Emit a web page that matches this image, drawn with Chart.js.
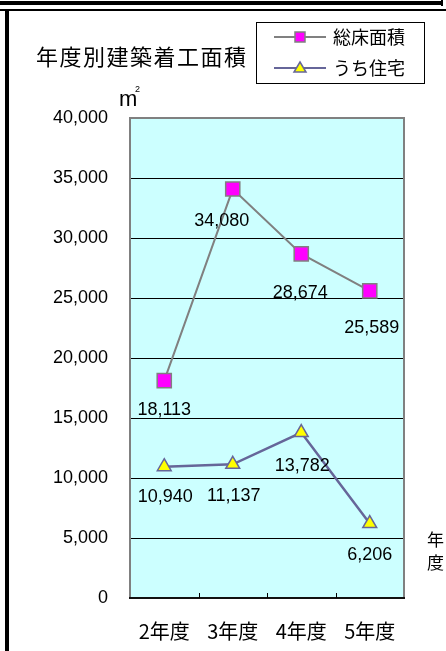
<!DOCTYPE html>
<html>
<head>
<meta charset="utf-8">
<script src="https://cdn.jsdelivr.net/npm/chart.js@4"></script>
<style>
html,body{margin:0;padding:0;background:#fff;}
canvas{display:block;}
</style>
</head>
<body>
<canvas id="c" width="446" height="651"></canvas>
<script>
const categories = ['2年度', '3年度', '4年度', '5年度'];
const totalFloor = [18113, 34080, 28674, 25589];
const housing = [10940, 11137, 13782, 6206];
const seriesNames = ['総床面積', 'うち住宅'];
const yTicks = [0, 5000, 10000, 15000, 20000, 25000, 30000, 35000, 40000];
const titleText = '年度別建築着工面積';
const xAxisTitle = ['年', '度'];

// label offsets (px) relative to each point
const labelOffsets = [
  {dx: [0, -11, -1, 2], dy: [29, 32, 39, 37]},
  {dx: [1, 1, 1, 0], dy: [30, 32, 33, 32]}
];

const NUM_FONT = '"Liberation Sans", Arial, sans-serif';
const JP_FONT = '"Noto Sans CJK JP", sans-serif';
const fmt = v => v.toLocaleString('en-US');

const decor = {
  id: 'decor',
  beforeDraw(chart) {
    const ctx = chart.ctx, a = chart.chartArea;
    ctx.save();
    ctx.fillStyle = '#fff';
    ctx.fillRect(0, 0, chart.width, chart.height);
    // frame
    ctx.fillStyle = '#000';
    ctx.fillRect(0, 1, 441, 4);
    ctx.fillRect(441, 0, 2, 6);
    ctx.fillRect(0, 9, 446, 2);
    ctx.fillRect(5, 9, 4, chart.height - 9);
    // plot bg
    ctx.fillStyle = '#CCFFFF';
    ctx.fillRect(a.left, a.top, a.right - a.left, a.bottom - a.top);
    ctx.restore();
  },
  beforeDatasetsDraw(chart) {
    const ctx = chart.ctx, a = chart.chartArea, x = chart.scales.x;
    ctx.save();
    ctx.strokeStyle = '#808080';
    ctx.lineWidth = 2;
    ctx.beginPath();
    ctx.moveTo(a.left, a.bottom);
    ctx.lineTo(a.left, a.top);
    ctx.lineTo(a.right, a.top);
    ctx.lineTo(a.right, a.bottom);
    ctx.stroke();
    ctx.strokeStyle = '#111';
    ctx.lineWidth = 2;
    ctx.beginPath();
    ctx.moveTo(a.left - 1, a.bottom);
    ctx.lineTo(a.right + 1, a.bottom);
    ctx.stroke();
    // inner ticks between categories
    ctx.lineWidth = 1;
    ctx.strokeStyle = '#000';
    const half = (x.getPixelForValue(1) - x.getPixelForValue(0)) / 2;
    for (let i = 0; i < categories.length - 1; i++) {
      const px = Math.round(x.getPixelForValue(i) + half) + 0.5;
      ctx.beginPath();
      ctx.moveTo(px, a.bottom);
      ctx.lineTo(px, a.bottom - 5);
      ctx.stroke();
    }
    ctx.restore();
  },
  afterDatasetsDraw(chart) {
    const ctx = chart.ctx;
    ctx.save();
    ctx.fillStyle = '#000';
    ctx.font = '18px ' + NUM_FONT;
    ctx.textAlign = 'center';
    ctx.textBaseline = 'middle';
    chart.data.datasets.forEach((ds, di) => {
      const meta = chart.getDatasetMeta(di);
      meta.data.forEach((pt, i) => {
        ctx.fillText(fmt(ds.data[i]), pt.x + labelOffsets[di].dx[i], pt.y + labelOffsets[di].dy[i]);
      });
    });
    ctx.restore();
  },
  afterDraw(chart) {
    const ctx = chart.ctx;
    ctx.save();
    // title
    ctx.fillStyle = '#000';
    ctx.font = '22px ' + JP_FONT;
    ctx.textBaseline = 'middle';
    ctx.textAlign = 'left';
    try { ctx.letterSpacing = '1.5px'; } catch (e) {}
    ctx.fillText(titleText, 36, 57);
    try { ctx.letterSpacing = '0px'; } catch (e) {}
    // unit
    ctx.textBaseline = 'alphabetic';
    ctx.font = '22px ' + NUM_FONT;
    ctx.fillText('m', 119, 106);
    ctx.font = '9px ' + NUM_FONT;
    ctx.fillText('2', 135, 92);
    // legend
    ctx.fillStyle = '#fff';
    ctx.fillRect(256, 22, 168, 61);
    ctx.strokeStyle = '#000';
    ctx.lineWidth = 1;
    ctx.strokeRect(256.5, 22.5, 168, 61);
    const rows = [37, 68];
    chart.data.datasets.forEach((ds, di) => {
      const y = rows[di];
      ctx.strokeStyle = ds.borderColor;
      ctx.lineWidth = 2;
      ctx.beginPath();
      ctx.moveTo(274, y);
      ctx.lineTo(326, y);
      ctx.stroke();
      ctx.fillStyle = ds.pointBackgroundColor;
      ctx.strokeStyle = ds.pointBorderColor;
      ctx.lineWidth = 1.5;
      ctx.beginPath();
      if (ds.pointStyle === 'rect') {
        ctx.rect(295, y - 5, 10, 10);
      } else {
        ctx.moveTo(300, y - 6);
        ctx.lineTo(306, y + 4);
        ctx.lineTo(294, y + 4);
        ctx.closePath();
      }
      ctx.fill();
      ctx.stroke();
      ctx.fillStyle = '#000';
      ctx.font = '18px ' + JP_FONT;
      ctx.textBaseline = 'middle';
      ctx.textAlign = 'left';
      ctx.fillText(ds.label, 333, y);
    });
    // x axis title (vertical)
    ctx.font = '17px ' + JP_FONT;
    ctx.textAlign = 'left';
    ctx.textBaseline = 'middle';
    ctx.fillText(xAxisTitle[0], 427, 540);
    ctx.fillText(xAxisTitle[1], 427, 563);
    ctx.restore();
  }
};

new Chart(document.getElementById('c'), {
  type: 'line',
  data: {
    labels: categories,
    datasets: [
      {
        label: seriesNames[0],
        data: totalFloor,
        borderColor: '#808080',
        borderWidth: 2,
        pointStyle: 'rect',
        pointRadius: 10,
        pointBackgroundColor: '#FF00FF',
        pointBorderColor: '#808080',
        pointBorderWidth: 1.5,
        tension: 0
      },
      {
        label: seriesNames[1],
        data: housing,
        borderColor: '#666699',
        borderWidth: 2.5,
        pointStyle: 'triangle',
        pointRadius: 8,
        pointBackgroundColor: '#FFFF00',
        pointBorderColor: '#666699',
        pointBorderWidth: 1.5,
        tension: 0
      }
    ]
  },
  options: {
    responsive: false,
    devicePixelRatio: 1,
    animation: false,
    events: [],
    layout: {padding: {top: 118, right: 42, left: 0, bottom: 0}},
    plugins: {legend: {display: false}, title: {display: false}, tooltip: {enabled: false}},
    scales: {
      x: {
        type: 'category',
        offset: true,
        afterFit(s) { s.height = 53; },
        grid: {display: false},
        border: {display: false},
        ticks: {color: '#000', font: {size: 20, family: JP_FONT}, padding: 13, maxRotation: 0, autoSkip: false}
      },
      y: {
        min: 0,
        max: 40000,
        afterFit(s) { s.width = 130; },
        afterBuildTicks(s) { s.ticks = yTicks.map(v => ({value: v})); },
        grid: {color: '#000', lineWidth: 1, drawTicks: false},
        border: {display: false},
        ticks: {color: '#000', font: {size: 18, family: NUM_FONT}, padding: 22, callback: v => fmt(v)}
      }
    }
  },
  plugins: [decor]
});
</script>
</body>
</html>
